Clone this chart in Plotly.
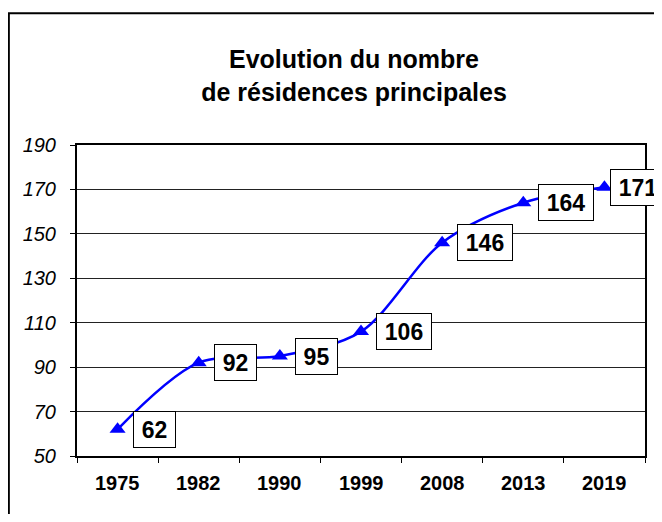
import plotly.graph_objects as go

# Données
annees = ["1975", "1982", "1990", "1999", "2008", "2013", "2019"]
residences = [62, 92, 95, 106, 146, 164, 171]
y_ticks = [50, 70, 90, 110, 130, 150, 170, 190]

police = "Arial, Liberation Sans, sans-serif"
bleu = "#0000FF"
pos = list(range(len(annees)))

fig = go.Figure()
fig.add_trace(go.Scatter(
    x=pos, y=residences,
    mode="lines+markers",
    line=dict(color=bleu, width=2.5, shape="spline", smoothing=0.9),
    marker=dict(symbol="triangle-up", size=14, color=bleu),
    showlegend=False, text=annees, hoverinfo="text+y",
))

# Etiquettes encadrées à droite de chaque point
for i, v in zip(pos, residences):
    txt = str(v)
    fig.add_annotation(
        x=i, y=v, text="<b>%s</b>" % txt,
        showarrow=False, xanchor="left", yanchor="middle",
        xshift=6 if i == pos[-1] else 15,
        font=dict(family=police, size=23, color="black"),
        bgcolor="white", bordercolor="black", borderwidth=1, borderpad=1,
        width=13 * len(txt) + 13, height=33,
    )

# Cadre extérieur (coupé à droite et en bas)
fig.add_shape(type="rect", xref="paper", yref="paper",
              x0=-0.12, x1=1.06, y0=-0.25, y1=1.424,
              line=dict(color="black", width=2), fillcolor="rgba(0,0,0,0)",
              layer="below")

fig.update_xaxes(
    range=[-0.5, len(annees) - 0.5], tickmode="array",
    tickvals=[p - 0.5 for p in pos] + [len(annees) - 0.5], ticktext=[""] * (len(annees) + 1),
    ticks="outside", ticklen=5, tickcolor="black",
    showline=True, linecolor="black", linewidth=2,
    mirror=True, showgrid=False, zeroline=False,
)
# libellés des années centrés dans chaque catégorie
for i, a in zip(pos, annees):
    fig.add_annotation(
        x=i, y=0, xref="x", yref="paper", yanchor="top", yshift=-14,
        text="<b>%s</b>" % a, showarrow=False,
        font=dict(family=police, size=20, color="black"),
    )

fig.update_yaxes(
    range=[50, 190], tickmode="array", tickvals=y_ticks,
    ticktext=["<i>%d</i>" % t for t in y_ticks],
    ticks="outside", ticklen=5,
    tickcolor="black", showline=True, linecolor="black", linewidth=2,
    mirror=True, showgrid=True, gridcolor="#222222", gridwidth=1,
    zeroline=False, ticklabelstandoff=10,
    tickfont=dict(family=police, size=20, color="black"),
)

fig.update_layout(
    width=654, height=506,
    margin=dict(l=69, r=17, t=137, b=58),
    paper_bgcolor="white", plot_bgcolor="white",
    title=dict(
        text="<b>Evolution du nombre<br>de résidences principales</b>",
        x=346 / 654, xanchor="center", xref="container",
        y=1 - 60 / 506, yanchor="middle", yref="container",
        font=dict(family=police, size=25, color="black"),
    ),
)

fig.write_html("out.html")
